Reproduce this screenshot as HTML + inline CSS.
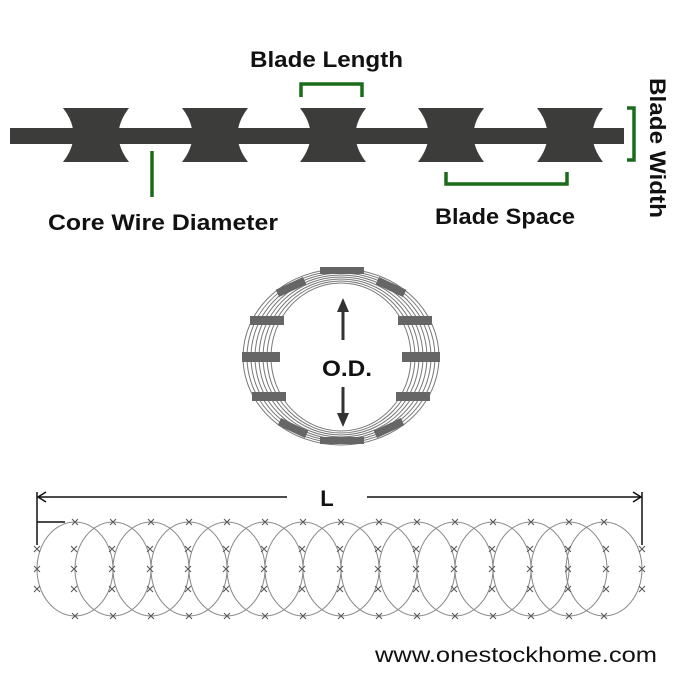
<!DOCTYPE html>
<html><head><meta charset="utf-8"><style>
html,body{margin:0;padding:0;background:#fff;}
svg{display:block;}
text{font-family:"Liberation Sans",sans-serif;}
</style></head><body>
<svg width="680" height="680" viewBox="0 0 680 680" xmlns="http://www.w3.org/2000/svg">
<defs>
<path id="bl" d="M-33 108 L33 108 Q12 135 33 162 L-33 162 Q-12 135 -33 108 Z" fill="#3c3d3b"/>
<g id="x"><path d="M-3 -3 L3 3 M3 -3 L-3 3" stroke="#555" stroke-width="1"/></g>
</defs>
<rect x="10" y="128" width="614" height="16" fill="#3c3d3b"/>
<use href="#bl" x="96"/><use href="#bl" x="215"/><use href="#bl" x="333"/><use href="#bl" x="451"/><use href="#bl" x="570"/>
<g stroke="#1a6b1a" stroke-width="3.5" fill="none">
<path d="M301 97 L301 84 L362 84 L362 97"/>
<path d="M152 151 L152 197"/>
<path d="M446 172 L446 184 L567 184 L567 172"/>
<path d="M627 108 L634 108 L634 160 L627 160"/>
</g>
<g font-weight="bold" font-size="22" fill="#111">
<text x="250" y="67" textLength="153" lengthAdjust="spacingAndGlyphs">Blade Length</text>
<text x="48" y="230" textLength="230" lengthAdjust="spacingAndGlyphs">Core Wire Diameter</text>
<text x="435" y="224" textLength="140" lengthAdjust="spacingAndGlyphs">Blade Space</text>
<text transform="translate(650,78) rotate(90)" textLength="140" lengthAdjust="spacingAndGlyphs">Blade Width</text>
<text x="322" y="376" textLength="50" lengthAdjust="spacingAndGlyphs">O.D.</text>
<text x="327" y="506" text-anchor="middle">L</text>
</g>
<g fill="none" stroke="#777" stroke-width="1">
<ellipse cx="341" cy="357" rx="98" ry="88"/>
<ellipse cx="341" cy="357" rx="94" ry="86"/>
<ellipse cx="341" cy="357" rx="90" ry="84"/>
<ellipse cx="341" cy="357" rx="86" ry="82"/>
<ellipse cx="341" cy="357" rx="82" ry="80"/>
<ellipse cx="341" cy="357" rx="78" ry="78"/>
<ellipse cx="341" cy="357" rx="74" ry="76"/>
<ellipse cx="341" cy="357" rx="70" ry="74"/>
</g>
<g fill="#666">
<rect x="242" y="352" width="38" height="10"/><rect x="402" y="352" width="38" height="10"/>
<rect x="250" y="316" width="34" height="9"/><rect x="398" y="316" width="34" height="9"/>
<rect x="252" y="392" width="34" height="9"/><rect x="396" y="392" width="34" height="9"/>
<rect x="276" y="283" width="30" height="8" transform="rotate(-25 291 287)"/><rect x="376" y="283" width="30" height="8" transform="rotate(25 391 287)"/>
<rect x="278" y="424" width="30" height="8" transform="rotate(25 293 428)"/><rect x="374" y="424" width="30" height="8" transform="rotate(-25 389 428)"/>
<rect x="320" y="267" width="44" height="7"/><rect x="320" y="437" width="44" height="7"/>
</g>
<g stroke="#333" stroke-width="3" fill="#333">
<line x1="343" y1="340" x2="343" y2="310"/><path d="M337 312 L343 298 L349 312 Z" stroke="none"/>
<line x1="343" y1="387" x2="343" y2="415"/><path d="M337 413 L343 427 L349 413 Z" stroke="none"/>
</g>
<g stroke="#111" stroke-width="1.5" fill="none">
<line x1="38" y1="497" x2="287" y2="497"/><path d="M46 492 L38 497 L46 502"/>
<line x1="367" y1="497" x2="641" y2="497"/><path d="M633 492 L641 497 L633 502"/>
<line x1="37" y1="492" x2="37" y2="545"/><line x1="642" y1="492" x2="642" y2="545"/>
<line x1="37" y1="522" x2="65" y2="522"/>
</g>
<g fill="none" stroke="#888" stroke-width="1">
<ellipse cx="75" cy="569" rx="38" ry="47"/><ellipse cx="113" cy="569" rx="38" ry="47"/><ellipse cx="151" cy="569" rx="38" ry="47"/><ellipse cx="189" cy="569" rx="38" ry="47"/><ellipse cx="227" cy="569" rx="38" ry="47"/><ellipse cx="265" cy="569" rx="38" ry="47"/><ellipse cx="303" cy="569" rx="38" ry="47"/><ellipse cx="341" cy="569" rx="38" ry="47"/><ellipse cx="379" cy="569" rx="38" ry="47"/><ellipse cx="417" cy="569" rx="38" ry="47"/><ellipse cx="455" cy="569" rx="38" ry="47"/><ellipse cx="493" cy="569" rx="38" ry="47"/><ellipse cx="531" cy="569" rx="38" ry="47"/><ellipse cx="569" cy="569" rx="38" ry="47"/><ellipse cx="604" cy="569" rx="38" ry="47"/>
</g>
<g>
<use href="#x" x="75" y="522"/><use href="#x" x="113" y="522"/><use href="#x" x="151" y="522"/><use href="#x" x="189" y="522"/><use href="#x" x="227" y="522"/><use href="#x" x="265" y="522"/><use href="#x" x="303" y="522"/><use href="#x" x="341" y="522"/><use href="#x" x="379" y="522"/><use href="#x" x="417" y="522"/><use href="#x" x="455" y="522"/><use href="#x" x="493" y="522"/><use href="#x" x="531" y="522"/><use href="#x" x="569" y="522"/><use href="#x" x="604" y="522"/>
<use href="#x" x="75" y="616"/><use href="#x" x="113" y="616"/><use href="#x" x="151" y="616"/><use href="#x" x="189" y="616"/><use href="#x" x="227" y="616"/><use href="#x" x="265" y="616"/><use href="#x" x="303" y="616"/><use href="#x" x="341" y="616"/><use href="#x" x="379" y="616"/><use href="#x" x="417" y="616"/><use href="#x" x="455" y="616"/><use href="#x" x="493" y="616"/><use href="#x" x="531" y="616"/><use href="#x" x="569" y="616"/><use href="#x" x="604" y="616"/>
<use href="#x" x="37" y="549"/><use href="#x" x="74" y="549"/><use href="#x" x="112" y="549"/><use href="#x" x="150" y="549"/><use href="#x" x="188" y="549"/><use href="#x" x="226" y="549"/><use href="#x" x="264" y="549"/><use href="#x" x="302" y="549"/><use href="#x" x="340" y="549"/><use href="#x" x="378" y="549"/><use href="#x" x="416" y="549"/><use href="#x" x="454" y="549"/><use href="#x" x="492" y="549"/><use href="#x" x="530" y="549"/><use href="#x" x="568" y="549"/><use href="#x" x="606" y="549"/><use href="#x" x="642" y="549"/>
<use href="#x" x="37" y="589"/><use href="#x" x="74" y="589"/><use href="#x" x="112" y="589"/><use href="#x" x="150" y="589"/><use href="#x" x="188" y="589"/><use href="#x" x="226" y="589"/><use href="#x" x="264" y="589"/><use href="#x" x="302" y="589"/><use href="#x" x="340" y="589"/><use href="#x" x="378" y="589"/><use href="#x" x="416" y="589"/><use href="#x" x="454" y="589"/><use href="#x" x="492" y="589"/><use href="#x" x="530" y="589"/><use href="#x" x="568" y="589"/><use href="#x" x="606" y="589"/><use href="#x" x="642" y="589"/>
<use href="#x" x="37" y="569"/><use href="#x" x="74" y="569"/><use href="#x" x="112" y="569"/><use href="#x" x="150" y="569"/><use href="#x" x="188" y="569"/><use href="#x" x="226" y="569"/><use href="#x" x="264" y="569"/><use href="#x" x="302" y="569"/><use href="#x" x="340" y="569"/><use href="#x" x="378" y="569"/><use href="#x" x="416" y="569"/><use href="#x" x="454" y="569"/><use href="#x" x="492" y="569"/><use href="#x" x="530" y="569"/><use href="#x" x="568" y="569"/><use href="#x" x="606" y="569"/><use href="#x" x="642" y="569"/>
</g>
<text x="375" y="662" font-size="21" fill="#111" textLength="282" lengthAdjust="spacingAndGlyphs">www.onestockhome.com</text>
</svg>
</body></html>
